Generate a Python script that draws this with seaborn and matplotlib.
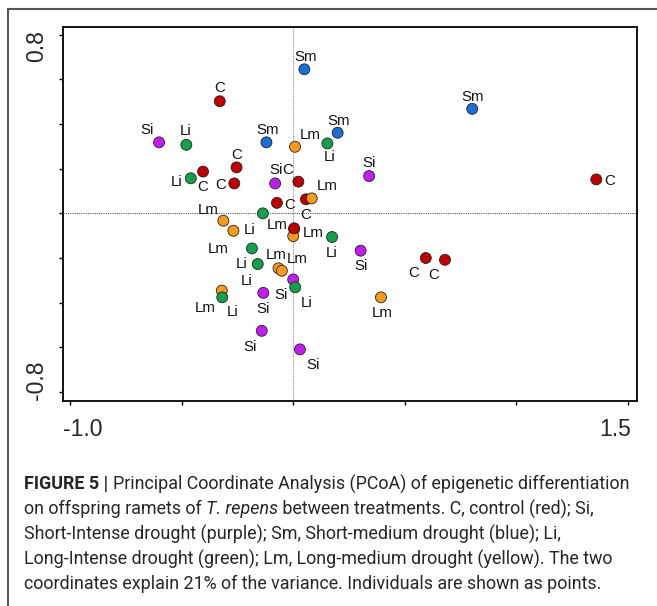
import numpy as np
import pandas as pd
import matplotlib
matplotlib.use("Agg")
import matplotlib.pyplot as plt
from matplotlib.lines import Line2D
import seaborn as sns

# PCoA coordinates of the offspring ramets, in drawing order
pc1 = [-0.329, -0.404, -0.254, -0.264, 0.023, 0.057, -0.073, 0.594, 0.680, 1.358,
       0.008, 0.083, -0.313, -0.268, 0.004, 0.000, -0.066, -0.051, -0.320, 0.393,
       -0.601, -0.081, 0.340, 0.302, 0.000, -0.134, -0.141, 0.030,
       0.050, -0.120, 0.199, 0.802,
       -0.479, -0.459, 0.153, -0.136, -0.185, -0.159, 0.009, -0.318, 0.174,
       0.004]
pc2 = [0.502, 0.187, 0.206, 0.134, 0.142, 0.063, 0.047, -0.200, -0.208, 0.152,
       0.298, 0.067, -0.033, -0.078, -0.070, -0.102, -0.246, -0.257, -0.346, -0.376,
       0.318, 0.134, 0.167, -0.167, -0.296, -0.356, -0.526, -0.609,
       0.645, 0.318, 0.361, 0.468,
       0.307, 0.157, 0.313, 0.000, -0.157, -0.227, -0.331, -0.376, -0.106,
       -0.067]
treatment = ["C"] * 10 + ["Lm"] * 10 + ["Si"] * 8 + ["Sm"] * 4 + ["Li"] * 9 + ["C"]
show_label = [True] * 41 + [False]

# where each point label sits, pixels from the point (x right, y down)
label_offset = [(0, -13), (0, 15), (0, -12), (-14, 2), (-11, -12), (0, 16), (13, 2),
                (-12, 15), (-11, 15), (13, 2),
                (15, -12), (15, -12), (-15, -11), (-15, 18), (-17, -4), (20, -3),
                (-2, -13), (15, -12), (-17, 17), (1, 16),
                (-12, -12), (1, -13), (0, -13), (0, 15), (-12, 16), (0, 16), (-12, 16), (13, 16),
                (1, -12), (1, -12), (1, -12), (0, -12),
                (-1, -14), (-14, 4), (2, 14), (-13, 17), (-10, 16), (-11, 17), (11, 16),
                (10, 15), (0, 16),
                (0, 0)]

colores = {"C": "#BF0000", "Si": "#C21CF0", "Sm": "#1A6ED8", "Li": "#13A04B", "Lm": "#FA9A1A"}

df = pd.DataFrame({"PC1": pc1, "PC2": pc2, "trat": treatment})

sns.set_theme(style="white")
plt.rcParams["font.family"] = ["Liberation Sans", "DejaVu Sans"]

fig = plt.figure(figsize=(6.57, 6.06), dpi=100)
ax = fig.add_axes([0.0954, 0.338, 0.8737, 0.618])

ax.axvline(0, color="#8a8a8a", lw=0.8, ls=(0, (1, 1)), zorder=1)
ax.axhline(0, color="#555555", lw=0.8, ls=(0, (1, 1)), zorder=1)

sns.scatterplot(data=df, x="PC1", y="PC2", hue="trat", palette=colores, s=62,
                edgecolor="#222222", linewidth=0.6, legend=False, ax=ax, zorder=3)

for i in range(len(df)):
    if not show_label[i]:
        continue
    dx, dy = label_offset[i]
    ax.annotate(df.trat[i], (df.PC1[i], df.PC2[i]), xytext=(dx, -dy),
                textcoords="offset pixels", ha="center", va="center",
                fontsize=10.8, color="#111111", zorder=4)

ax.set_xlim(-1.033, 1.539)
ax.set_ylim(-0.841, 0.836)
ax.set_xticks(np.arange(-1.0, 1.51, 0.5))
ax.set_yticks(np.arange(-0.8, 0.81, 0.2))
ax.set_xticklabels([])
ax.set_yticklabels([])
ax.tick_params(direction="out", length=3, width=1, color="black",
               bottom=True, left=True)
ax.set_xlabel("")
ax.set_ylabel("")
for s in ax.spines.values():
    s.set_color("black")
    s.set_linewidth(1.3)

# tick labels only at the ends of the axes
ax.text(0.0, -0.045, "-1.0", transform=ax.transAxes, ha="left", va="top", fontsize=16.5)
ax.text(0.99, -0.045, "1.5", transform=ax.transAxes, ha="right", va="top", fontsize=16.5)
ax.text(-0.026, 0.991, "0.8", transform=ax.transAxes, ha="right", va="top",
        rotation=90, fontsize=16.5)
ax.text(-0.026, 0.003, "-0.8", transform=ax.transAxes, ha="right", va="bottom",
        rotation=90, fontsize=16.5)

# marco exterior
W, H = 657, 606
fig.add_artist(Line2D([8 / W, 1], [1 - 8.5 / H, 1 - 8.5 / H], color="#555555", lw=1.5))
fig.add_artist(Line2D([8 / W, 8 / W], [0, 1 - 8.5 / H], color="#555555", lw=1.5))

# legenda da figura
cap = "#262626"
normal = dict(fontsize=12.9, color=cap, family=["Roboto", "DejaVu Sans"], weight="normal")
negrito = dict(normal, weight="bold")
italico = dict(normal, style="italic")
linhas = [
    [("FIGURE 5 | ", negrito), ("Principal Coordinate Analysis (PCoA) of epigenetic differentiation", normal)],
    [("on offspring ramets of ", normal), ("T. repens", italico),
     (" between treatments. C, control (red); Si,", normal)],
    [("Short-Intense drought (purple); Sm, Short-medium drought (blue); Li,", normal)],
    [("Long-Intense drought (green); Lm, Long-medium drought (yellow). The two", normal)],
    [("coordinates explain 21% of the variance. Individuals are shown as points.", normal)],
]
r = fig.canvas.get_renderer()
y0 = 484
for linha in linhas:
    x = 24 / W
    for txt, kw in linha:
        t = fig.text(x, 1 - y0 / H, txt, va="center", ha="left", **kw)
        x += t.get_window_extent(renderer=r).width / fig.bbox.width
    y0 += 25

fig.savefig("out.png", dpi=100)
